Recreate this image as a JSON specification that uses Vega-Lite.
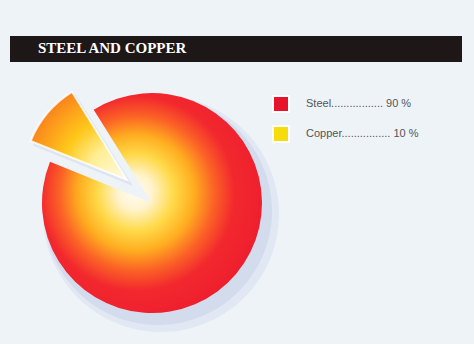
{
  "$schema": "https://vega.github.io/schema/vega-lite/v6.json",
  "background": "#eef3f8",
  "padding": {"left": 10, "top": 36, "right": 12, "bottom": 0},
  "spacing": 0,
  "config": {"view": {"stroke": null}},
  "vconcat": [
    {
      "width": 452,
      "height": 26,
      "view": {"fill": "#1d1718", "stroke": null},
      "data": {"values": [{}]},
      "mark": {"type": "rect", "color": "#1d1718"},
      "encoding": {},
      "title": {
        "text": "STEEL AND COPPER",
        "orient": "bottom",
        "anchor": "start",
        "offset": -21,
        "dx": 28,
        "color": "#ffffff",
        "font": "Liberation Serif",
        "fontSize": 15,
        "fontWeight": "bold"
      }
    },
    {
      "width": 284,
      "height": 282,
      "data": {
        "values": [
          {"material": "Steel", "value": 90},
          {"material": "Copper", "value": 10}
        ]
      },
      "transform": [
        {"stack": "value", "groupby": [], "sort": [{"field": "material", "order": "descending"}], "as": ["v0", "v1"]},
        {"calculate": "pad(datum.material, 22, '.') + ' ' + datum.value + ' %'", "as": "legendLabel"}
      ],
      "layer": [
        {
          "transform": [{"filter": "datum.material == 'Steel'"}],
          "mark": {"type": "arc", "outerRadius": 114, "fill": "#9eb0d4", "opacity": 0.22, "xOffset": 6, "yOffset": 8},
          "encoding": {
            "theta": {"field": "v0", "type": "quantitative", "scale": {"domain": [0, 100], "range": [-0.5585, 5.7247]}},
            "theta2": {"field": "v1"}
          }
        },
        {
          "transform": [{"filter": "datum.material == 'Steel'"}],
          "mark": {"type": "arc", "outerRadius": 118, "fill": "#9eb0d4", "opacity": 0.15, "xOffset": 9, "yOffset": 11},
          "encoding": {
            "theta": {"field": "v0", "type": "quantitative"},
            "theta2": {"field": "v1"}
          }
        },
        {
          "transform": [{"filter": "datum.material == 'Copper'"}],
          "mark": {"type": "arc", "outerRadius": 108, "fill": "#9eb0d4", "opacity": 0.2, "xOffset": -19, "yOffset": -17},
          "encoding": {
            "theta": {"field": "v0", "type": "quantitative"},
            "theta2": {"field": "v1"}
          }
        },
        {
          "transform": [{"filter": "datum.material == 'Steel'"}],
          "mark": {
            "type": "arc",
            "outerRadius": 110,
            "fill": {
              "gradient": "radial",
              "x1": 0.42, "y1": 0.45, "r1": 0,
              "x2": 0.44, "y2": 0.46, "r2": 0.64,
              "stops": [
                {"offset": 0, "color": "#fffbf2"},
                {"offset": 0.12, "color": "#fff4d0"},
                {"offset": 0.27, "color": "#ffda4a"},
                {"offset": 0.41, "color": "#ffae20"},
                {"offset": 0.55, "color": "#fb6226"},
                {"offset": 0.69, "color": "#f2282e"},
                {"offset": 1, "color": "#ec1a2d"}
              ]
            }
          },
          "encoding": {
            "theta": {"field": "v0", "type": "quantitative"},
            "theta2": {"field": "v1"}
          }
        },
        {
          "transform": [{"filter": "datum.material == 'Copper'"}],
          "mark": {
            "type": "arc",
            "outerRadius": 104,
            "xOffset": -25,
            "yOffset": -23,
            "stroke": "#ffffff",
            "strokeWidth": 2,
            "strokeOpacity": 0.8,
            "fill": {
              "gradient": "radial",
              "x1": 0.97, "y1": 0.97, "r1": 0,
              "x2": 0.97, "y2": 0.97, "r2": 1.3,
              "stops": [
                {"offset": 0, "color": "#fffbe6"},
                {"offset": 0.3, "color": "#ffee95"},
                {"offset": 0.52, "color": "#ffc81a"},
                {"offset": 0.76, "color": "#fb921c"},
                {"offset": 1, "color": "#f25a1e"}
              ]
            }
          },
          "encoding": {
            "theta": {"field": "v0", "type": "quantitative"},
            "theta2": {"field": "v1"}
          }
        },
        {
          "mark": {"type": "arc", "outerRadius": 0, "innerRadius": 0},
          "encoding": {
            "color": {
              "field": "legendLabel",
              "type": "nominal",
              "sort": {"field": "value", "op": "sum", "order": "descending"},
              "scale": {"range": ["#e8142c", "#f7dc0c"]},
              "legend": {
                "orient": "none",
                "legendX": 262,
                "legendY": 59,
                "title": null,
                "padding": 0,
                "symbolType": "square",
                "symbolSize": 256,
                "symbolStrokeColor": "#ffffff",
                "symbolStrokeWidth": 2,
                "symbolOpacity": 1,
                "rowPadding": 6,
                "labelOffset": 16,
                "labelFont": "Liberation Sans",
                "labelFontSize": 11,
                "labelColor": "#555555",
                "labelLimit": 300
              }
            }
          }
        }
      ]
    }
  ]
}
